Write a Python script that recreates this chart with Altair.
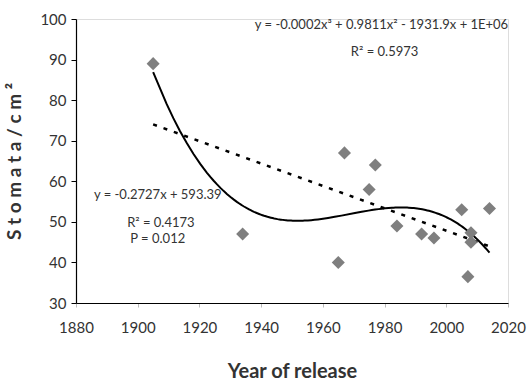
import altair as alt
import pandas as pd

years = [1905, 1934, 1965, 1967, 1975, 1977, 1984, 1992, 1996, 2005, 2007, 2008, 2008, 2014]
stomata = [89, 47, 40, 67, 58, 64, 49, 47, 46, 53, 36.5, 47.3, 45, 53.3]

df = pd.DataFrame({"year": years, "value": stomata})

FONT = "Lato"
TXT = "#333333"

xs = alt.Scale(domain=[1880, 2020], nice=False, zero=False)
ys = alt.Scale(domain=[30, 100], nice=False, zero=False)

base = alt.Chart(df)

points = base.mark_point(shape="diamond", filled=True, size=170, color="#7f7f7f", opacity=1).encode(
    x=alt.X("year:Q", scale=xs, axis=alt.Axis(
        values=[1880, 1900, 1920, 1940, 1960, 1980, 2000, 2020], format="d",
        title="Year of release", titleFont=FONT, titleFontSize=20, titleFontWeight="bold",
        titleColor=TXT, titlePadding=26, labelFont=FONT, labelFontSize=15, labelColor=TXT,
        labelPadding=13, labelFlush=False, tickSize=4, tickColor="#bbbbbb",
        domainColor="black", domainWidth=1.2, grid=False)),
    y=alt.Y("value:Q", scale=ys, axis=alt.Axis(
        values=[30, 40, 50, 60, 70, 80, 90, 100],
        title="S t o m a t a / c m \u00b2",
        titleFont=FONT, titleFontSize=19, titleFontWeight="bold", titleColor=TXT,
        titlePadding=15, labelFont=FONT, labelFontSize=15, labelColor=TXT, labelPadding=5,
        labelFlush=False, tickSize=5, tickColor="black", domainColor="black", domainWidth=1.2,
        grid=False)),
)

lin = base.transform_regression("year", "value", method="linear", extent=[1905, 2014]).mark_line(
    color="black", strokeWidth=2.5, strokeDash=[4, 7]).encode(
    x=alt.X("year:Q", scale=xs), y=alt.Y("value:Q", scale=ys))

poly = base.transform_regression("year", "value", method="poly", order=3, extent=[1905, 2014]).mark_line(
    color="black", strokeWidth=2).encode(
    x=alt.X("year:Q", scale=xs), y=alt.Y("value:Q", scale=ys))

ann_text = [
    "y = -0.0002x\u00b3 + 0.9811x\u00b2 - 1931.9x + 1E+06",
    "R\u00b2 = 0.5973",
    "y = -0.2727x + 593.39",
    "R\u00b2 = 0.4173",
    "P = 0.012",
]
ann_x = [1979, 1980, 1906.5, 1907.5, 1906.5]
ann_y = [98.5, 91.9, 56.6, 49.7, 45.8]
ann = pd.DataFrame({"t": ann_text, "x": ann_x, "y": ann_y})

labels = alt.Chart(ann).mark_text(font=FONT, fontSize=13, color=TXT).encode(
    x=alt.X("x:Q", scale=xs), y=alt.Y("y:Q", scale=ys), text="t:N")

chart = alt.layer(poly, lin, points, labels).properties(
    width=432, height=284,
    autosize=alt.AutoSizeParams(type="none"),
    padding={"left": 76, "top": 19, "right": 24, "bottom": 82},
).configure_view(stroke=None).configure(background="white")

chart.save("out.html", embed_options={"renderer": "svg", "actions": False})
